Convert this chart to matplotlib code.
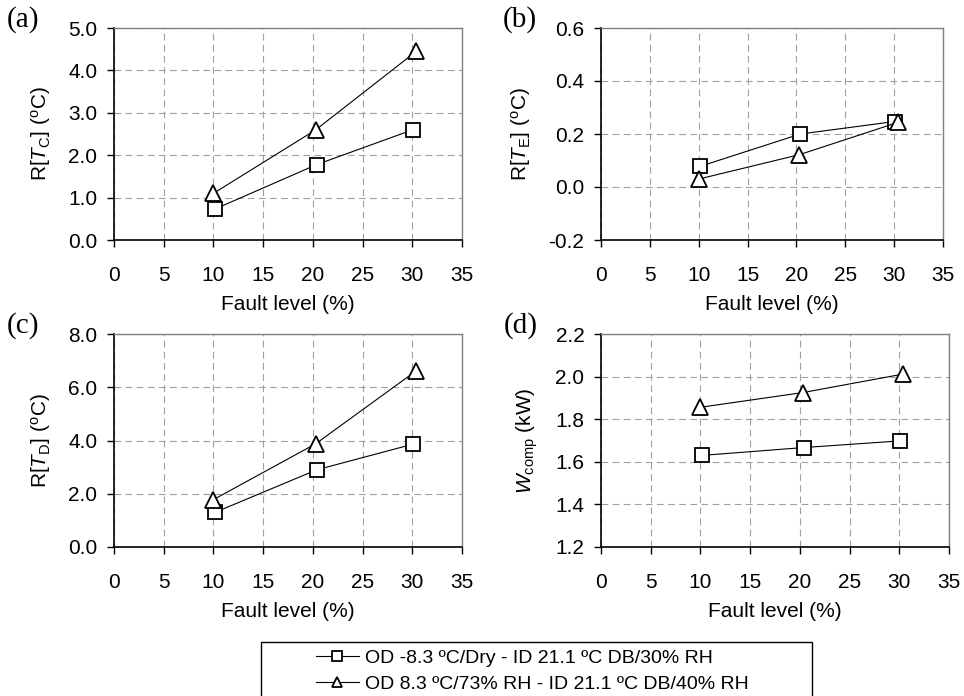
import matplotlib
matplotlib.use("Agg")
import matplotlib.pyplot as plt
from matplotlib.patches import Rectangle

plt.rcParams['font.family'] = ['Liberation Sans', 'DejaVu Sans']
plt.rcParams['mathtext.fontset'] = 'custom'
plt.rcParams['mathtext.rm'] = 'Liberation Sans'
plt.rcParams['mathtext.it'] = 'Liberation Sans:italic'

# data
x_sq = [10.15, 20.4, 30.05]
x_tri = [10.0, 20.3, 30.4]

tc_sq = [0.73, 1.78, 2.6]
tc_tri = [1.1, 2.6, 4.45]

te_sq = [0.078, 0.2, 0.247]
te_tri = [0.03, 0.122, 0.244]

td_sq = [1.3, 2.9, 3.86]
td_tri = [1.78, 3.88, 6.62]

w_sq = [1.63, 1.667, 1.698]
w_tri = [1.856, 1.925, 2.012]

series_labels = ["OD -8.3 ºC/Dry - ID 21.1 ºC DB/30% RH",
                 "OD 8.3 ºC/73% RH - ID 21.1 ºC DB/40% RH"]

panels = [
    ("(a)", tc_sq, tc_tri, r"R[$\mathit{T}_{\rm C}$] ($^{\rm o}$C)", (0.0, 5.0, 1.0), "{:.1f}"),
    ("(b)", te_sq, te_tri, r"R[$\mathit{T}_{\rm E}$] ($^{\rm o}$C)", (-0.2, 0.6, 0.2), "{:.1f}"),
    ("(c)", td_sq, td_tri, r"R[$\mathit{T}_{\rm D}$] ($^{\rm o}$C)", (0.0, 8.0, 2.0), "{:.1f}"),
    ("(d)", w_sq, w_tri, r"$\mathit{W}_{\rm comp}$ (kW)", (1.2, 2.2, 0.2), "{:.1f}"),
]

W, H = 964, 696
boxes = [(114, 28, 462, 240), (601, 28, 943, 240),
         (114, 334, 462, 547), (601, 334, 949, 547)]
label_pos = [(7, 20), (503, 20), (7, 326), (504, 326)]

fig = plt.figure(figsize=(W / 100, H / 100), dpi=100)

lines = None
for (lab, ysq, ytri, ylab, (y0, y1, dy), fmt), (l, t, r, b), (lx, ly) in zip(panels, boxes, label_pos):
    ax = fig.add_axes([l / W, 1 - b / H, (r - l) / W, (b - t) / H])
    l1, = ax.plot(x_sq, ysq, color='black', lw=0.8, marker='s', ms=10,
                  mfc='white', mec='black', mew=1.3, label=series_labels[0])
    l2, = ax.plot(x_tri, ytri, color='black', lw=0.8, marker='^', ms=11,
                  mfc='white', mec='black', mew=1.3, label=series_labels[1])
    lines = [l1, l2]
    ax.set_xlim(0, 35)
    ax.set_ylim(y0, y1)
    ax.set_xticks(range(0, 36, 5))
    n = int(round((y1 - y0) / dy))
    yt = [y0 + i * dy for i in range(n + 1)]
    ax.set_yticks(yt)
    ax.set_yticklabels([fmt.format(v) for v in yt])
    ax.grid(True, color='#a0a0a0', lw=0.8, linestyle=(0, (6, 4)))
    ax.set_axisbelow(True)
    for s in ['top', 'right']:
        ax.spines[s].set_color('#808080')
        ax.spines[s].set_linewidth(1.0)
    for s in ['left', 'bottom']:
        ax.spines[s].set_color('black')
        ax.spines[s].set_linewidth(1.2)
    ax.tick_params(direction='out', length=5, width=1.0, labelsize=15, pad=7)
    ax.tick_params(axis='x', pad=14)
    ax.set_xlabel("Fault level (%)", fontsize=15, labelpad=7)
    ax.set_ylabel(ylab, fontsize=15, labelpad=11)
    fig.text(lx / W, 1 - ly / H, lab, family='Liberation Serif',
             fontsize=21, ha='left', va='center')

fig.add_artist(Rectangle((261 / W, 1 - 698 / H), (812 - 261) / W, (698 - 642) / H,
                         transform=fig.transFigure, fill=False, ec='black', lw=1.0))
fig.legend(handles=lines, loc='upper left', bbox_to_anchor=(316 / W, 1 - 649 / H),
           frameon=False, fontsize=14, markerscale=0.7, handlelength=2.2,
           handletextpad=0.3, labelspacing=0.45, borderpad=0, borderaxespad=0)

fig.savefig("out.png", dpi=100)
